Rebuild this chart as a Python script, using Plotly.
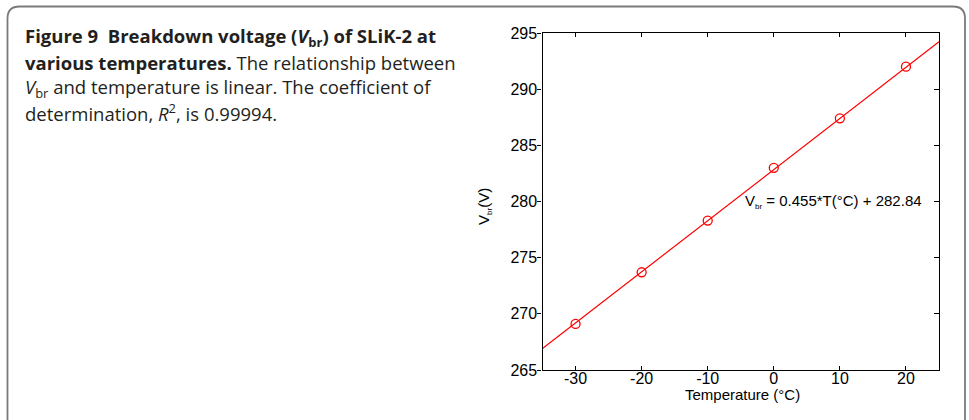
import plotly.graph_objects as go

# ---- data ----
temperature_c = [-30, -20, -10, 0, 10, 20]
vbr_volts = [269.1, 273.7, 278.3, 283.0, 287.4, 292.0]
fit_slope = 0.455
fit_intercept = 282.84
x_range = [-35, 25]
y_range = [265, 295]
x_ticks = [-30, -20, -10, 0, 10, 20]
x_tick_labels = ["-30", "-20", "-10", "0", "10", "20"]
y_ticks = [265, 270, 275, 280, 285, 290, 295]
y_tick_labels = ["265", "270", "275", "280", "285", "290", "295"]

W, H = 969, 420

def px(x):
    return x / W

def py(y):
    return 1 - y / H

fit_x = list(x_range)
fit_y = [fit_slope * t + fit_intercept for t in fit_x]

fig = go.Figure()
fig.add_trace(go.Scatter(x=fit_x, y=fit_y, mode="lines",
                         line=dict(color="#ff0000", width=1.2),
                         showlegend=False, hoverinfo="skip"))
fig.add_trace(go.Scatter(x=temperature_c, y=vbr_volts, mode="markers",
                         marker=dict(symbol="circle-open", size=9,
                                     color="#ff0000", line=dict(width=1.3, color="#ff0000")),
                         showlegend=False))
# invisible trace to activate right-side axis
fig.add_trace(go.Scatter(x=[None], y=[None], yaxis="y2", showlegend=False))

# rounded border box (pixel coords converted to paper)
L, T, R, B, r = 7.5, 6.5, 965.0, 432.0, 12
path = (f"M {px(L)},{py(B)} L {px(L)},{py(T + r)} Q {px(L)},{py(T)} {px(L + r)},{py(T)} "
        f"L {px(R - r)},{py(T)} Q {px(R)},{py(T)} {px(R)},{py(T + r)} "
        f"L {px(R)},{py(B - r)} Q {px(R)},{py(B)} {px(R - r)},{py(B)} "
        f"L {px(L + r)},{py(B)} Q {px(L)},{py(B)} {px(L)},{py(B - r)} Z")
fig.add_shape(type="path", path=path, xref="paper", yref="paper",
              line=dict(color="#7a7a7a", width=1.8), layer="below")

cap_font = dict(family="Open Sans", size=18.5, color="#231f20")
caption_lines = [
    "<b>Figure 9  Breakdown voltage (<i>V</i><sub>br</sub>) of SLiK-2 at</b>",
    "<b>various temperatures.</b> The relationship between",
    "<i>V</i><sub>br</sub> and temperature is linear. The coefficient of",
    "determination, <i>R</i><sup>2</sup>, is 0.99994.",
]
caption_y = [37, 62, 88, 113]
for text, yc in zip(caption_lines, caption_y):
    fig.add_annotation(text=text, xref="paper", yref="paper", x=px(23), y=py(yc),
                       xanchor="left", yanchor="middle", showarrow=False, font=cap_font)

ax_font = dict(family="Liberation Sans, Arial", size=15, color="#000000")
tick_font = dict(family="Liberation Sans, Arial", size=16, color="#000000")
eq_font = dict(family="Liberation Sans, Arial", size=15, color="#000000")

fig.add_annotation(text="V<sub><span style='font-size:8px'>br</span></sub> = 0.455*T(°C) + 282.84",
                   xref="paper", yref="paper", x=px(743), y=py(201),
                   xanchor="left", yanchor="middle", showarrow=False, font=eq_font)
fig.add_annotation(text="V<sub><span style='font-size:8px'>br</span></sub>(V)",
                   xref="paper", yref="paper", x=px(484), y=py(207), textangle=-90,
                   xanchor="center", yanchor="middle", showarrow=False, font=ax_font)
fig.add_annotation(text="Temperature (°C)", xref="paper", yref="paper",
                   x=px(742), y=py(394), xanchor="center", yanchor="middle",
                   showarrow=False, font=ax_font)

fig.update_layout(
    width=W, height=H,
    margin=dict(l=0, r=0, t=0, b=0),
    paper_bgcolor="white", plot_bgcolor="white",
    font=ax_font,
    xaxis=dict(domain=[px(542.5), px(939)], range=x_range, tickvals=x_ticks,
               ticktext=x_tick_labels,
               ticks="inside", ticklen=4, tickwidth=1, tickcolor="#000",
               showline=True, linecolor="#000", linewidth=1.3, mirror="ticks",
               showgrid=False, zeroline=False, automargin=False,
               tickfont=tick_font, ticklabelstandoff=-6),
    yaxis=dict(domain=[py(370), py(33)], range=y_range, tickvals=y_ticks,
               ticktext=y_tick_labels,
               ticks="outside", ticklen=4, tickwidth=1, tickcolor="#000",
               showline=True, linecolor="#000", linewidth=1.3, mirror=True,
               showgrid=False, zeroline=False, automargin=False,
               tickfont=tick_font, ticklabelstandoff=-3),
    yaxis2=dict(overlaying="y", side="right", range=y_range, tickvals=y_ticks,
                ticks="inside", ticklen=5, tickwidth=1, tickcolor="#000",
                showticklabels=False, showline=False, showgrid=False, zeroline=False),
)

fig.write_html("out.html", config={"displayModeBar": False},
               post_script="document.body.style.margin='0px';document.body.style.overflow='hidden';")
